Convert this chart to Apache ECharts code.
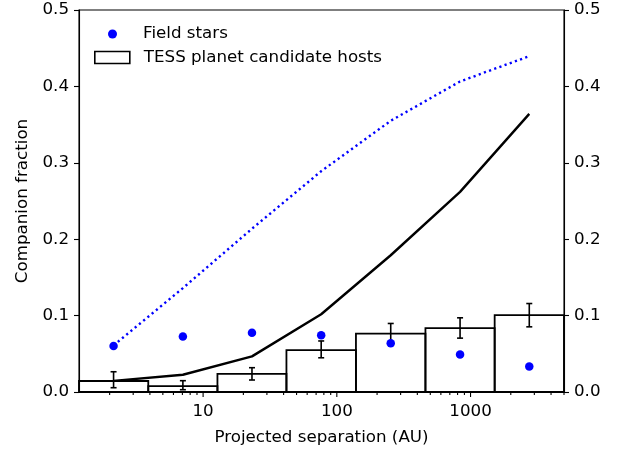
<!DOCTYPE html>
<html><head><meta charset="utf-8">
<script src="https://cdn.jsdelivr.net/npm/echarts@6/dist/echarts.min.js"></script>
<style>html,body{margin:0;padding:0;background:#fff}#chart{width:622px;height:451px}</style>
</head><body><div id="chart"></div>
<script>
// ---- data ----
const separation = [2.14, 7.06, 23.2, 76.4, 253, 835, 2750];          // AU, bin centres
const binEdges = [1.18, 3.89, 12.8, 42, 139, 460, 1515, 5000];          // AU
const fieldStars = [0.0603, 0.0725, 0.0777, 0.0742, 0.0638, 0.0491, 0.0334];
const tessFrac = [0.0144, 0.0078, 0.0238, 0.0548, 0.0765, 0.0835, 0.1005];
const tessErrLow = [0.0056, 0.0030, 0.0157, 0.0448, 0.0640, 0.0705, 0.0853];
const tessErrHigh = [0.0265, 0.0148, 0.0318, 0.0668, 0.0897, 0.0971, 0.1158];
const solidCurve = [0.0145, 0.0226, 0.0466, 0.1018, 0.179, 0.262, 0.364];
const dottedCurve = [0.061, 0.136, 0.2137, 0.289, 0.355, 0.4065, 0.4396];
const xMajorTicks = [10, 100, 1000];
const xMinorTicks = [2,3,4,5,6,7,8,9,20,30,40,50,60,70,80,90,200,300,400,500,600,700,800,900,2000,3000,4000,5000];
const xMin = 1.18, xMax = 5000;
const yMin = 0, yMax = 0.5, yStep = 0.1;

const FONT = 'DejaVu Sans';
const FS = 16.7;
const chart = echarts.init(document.getElementById('chart'), null, {renderer: 'canvas'});

function tickSeries(vals, len) {
  return {
    type: 'custom', clip: false, silent: true, z: 1,
    data: vals.map(v => [v, 0]),
    encode: {x: 0, y: 1},
    renderItem: (params, api) => {
      const p = api.coord([api.value(0), 0]);
      return {type: 'line', shape: {x1: p[0], y1: p[1], x2: p[0], y2: p[1] + len},
              style: {stroke: '#000', lineWidth: 1.1}};
    }
  };
}

const option = {
  animation: false,
  backgroundColor: '#fff',
  grid: {left: 79, right: 58, top: 10, bottom: 57, show: true, borderColor: '#000', borderWidth: 1.1, containLabel: false},
  legend: [
    {data: [{name: 'Field stars', icon: 'circle', itemStyle: {color: '#0000ff', opacity: 1}}],
     left: 108, top: 25.5, padding: 0, itemWidth: 35, itemHeight: 9, selectedMode: false,
     textStyle: {fontFamily: FONT, fontSize: FS, color: '#000', padding: [0, 0, 0, 8]}},
    {data: [{name: 'TESS planet candidate hosts', icon: 'rect', itemStyle: {color: '#fff', borderColor: '#000', borderWidth: 1.6}}],
     left: 94, top: 49, padding: 0, itemWidth: 35, itemHeight: 12, selectedMode: false,
     textStyle: {fontFamily: FONT, fontSize: FS, color: '#000', padding: [0, 0, 0, 9]}}
  ],
  xAxis: {
    type: 'log', logBase: 10, min: xMin, max: xMax,
    name: 'Projected separation (AU)', nameLocation: 'middle', nameGap: 37,
    nameTextStyle: {fontFamily: FONT, fontSize: FS, color: '#000'},
    axisLine: {show: true, lineStyle: {color: '#000', width: 1.1}},
    axisTick: {show: false}, minorTick: {show: false},
    splitLine: {show: false},
    axisLabel: {
      fontFamily: FONT, fontSize: FS, color: '#000', margin: 11,
      showMinLabel: false, showMaxLabel: false,
      formatter: v => xMajorTicks.some(t => Math.abs(t - v) / t < 1e-6) ? String(Math.round(v)) : ''
    }
  },
  yAxis: [
    {type: 'value', min: yMin, max: yMax, interval: yStep, position: 'left',
     name: 'Companion fraction', nameLocation: 'middle', nameGap: 48, nameRotate: 90,
     nameTextStyle: {fontFamily: FONT, fontSize: FS, color: '#000'},
     axisLine: {show: true, lineStyle: {color: '#000', width: 1.1}},
     axisTick: {show: true, inside: false, length: 5, lineStyle: {color: '#000', width: 1.1}},
     splitLine: {show: false},
     axisLabel: {fontFamily: FONT, fontSize: FS, color: '#000', margin: 10, formatter: v => v.toFixed(1)}},
    {type: 'value', min: yMin, max: yMax, interval: yStep, position: 'right',
     axisLine: {show: true, lineStyle: {color: '#000', width: 1.1}},
     axisTick: {show: true, inside: false, length: 5, lineStyle: {color: '#000', width: 1.1}},
     splitLine: {show: false},
     axisLabel: {fontFamily: FONT, fontSize: FS, color: '#000', margin: 10, formatter: v => v.toFixed(1)}}
  ],
  series: [
    tickSeries(xMajorTicks, 5),
    tickSeries(xMinorTicks, 3),
    {
      name: 'TESS planet candidate hosts', type: 'custom', clip: false, z: 2,
      itemStyle: {color: '#fff', borderColor: '#000'},
      data: tessFrac.map((h, i) => [binEdges[i], binEdges[i + 1], h]),
      encode: {x: [0, 1], y: 2},
      renderItem: (params, api) => {
        const p0 = api.coord([api.value(0), 0]);
        const p1 = api.coord([api.value(1), api.value(2)]);
        return {type: 'rect', shape: {x: p0[0], y: p1[1], width: p1[0] - p0[0], height: p0[1] - p1[1]},
                style: {fill: 'rgba(0,0,0,0)', stroke: '#000', lineWidth: 1.8}};
      }
    },
    {
      name: 'errors', type: 'custom', z: 3,
      data: separation.map((x, i) => [x, tessErrLow[i], tessErrHigh[i]]),
      encode: {x: 0, y: [1, 2]},
      renderItem: (params, api) => {
        const lo = api.coord([api.value(0), api.value(1)]);
        const hi = api.coord([api.value(0), api.value(2)]);
        const w = 3;
        const st = {stroke: '#000', lineWidth: 1.6};
        return {type: 'group', children: [
          {type: 'line', shape: {x1: lo[0], y1: lo[1], x2: hi[0], y2: hi[1]}, style: st},
          {type: 'line', shape: {x1: lo[0] - w, y1: lo[1], x2: lo[0] + w, y2: lo[1]}, style: st},
          {type: 'line', shape: {x1: hi[0] - w, y1: hi[1], x2: hi[0] + w, y2: hi[1]}, style: st}
        ]};
      }
    },
    {
      name: 'model solid', type: 'line', z: 4, showSymbol: false, symbol: 'none',
      data: separation.map((x, i) => [x, solidCurve[i]]),
      lineStyle: {color: '#000', width: 2.4}
    },
    {
      name: 'model dotted', type: 'line', z: 4, showSymbol: false, symbol: 'none',
      data: separation.map((x, i) => [x, dottedCurve[i]]),
      lineStyle: {color: '#0000ff', width: 2.4, type: [2.2, 3.3], cap: 'butt'}
    },
    {
      name: 'Field stars', type: 'scatter', z: 5, symbol: 'circle', symbolSize: 8.5,
      itemStyle: {color: '#0000ff', opacity: 1},
      data: separation.map((x, i) => [x, fieldStars[i]])
    }
  ]
};
chart.setOption(option);
</script></body></html>
